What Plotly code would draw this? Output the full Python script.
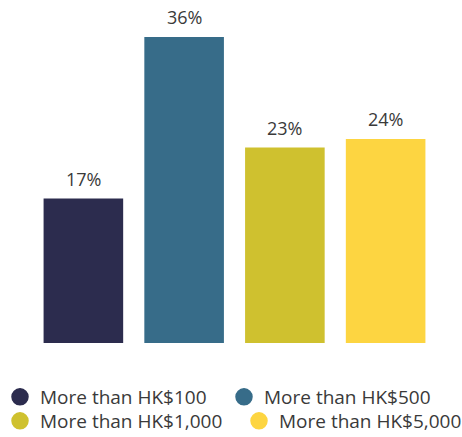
import plotly.graph_objects as go

categories = ["More than HK$100", "More than HK$500", "More than HK$1,000", "More than HK$5,000"]
values = [17, 36, 23, 24]
labels = ["17%", "36%", "23%", "24%"]
colors = ["#2c2c4e", "#376c89", "#cfc12f", "#fdd541"]

legend_names = ["legend", "legend2", "legend3", "legend4"]
legend_x = [-3, 224, -3, 239]
legend_y = [397, 397, 421, 421]

W, H = 462, 437

fig = go.Figure()
fig.add_trace(go.Bar(
    x=categories, y=values, marker=dict(color=colors, line=dict(width=0)),
    showlegend=False, hoverinfo="skip",
))
for c, v, t in zip(categories, values, labels):
    fig.add_annotation(x=c, y=v, text=t, showarrow=False, yanchor="bottom", yshift=6,
                       font=dict(family="Open Sans", size=18, color="#3a3a3a"))
for i, (c, col) in enumerate(zip(categories, colors)):
    fig.add_trace(go.Scatter(
        x=[None], y=[None], mode="markers", name=c,
        marker=dict(symbol="circle", size=16, color=col, line=dict(color=col, width=1.5)),
        legend=legend_names[i],
    ))

lay = dict(
    width=W, height=H,
    margin=dict(l=33, r=26, t=3, b=94, autoexpand=False),
    paper_bgcolor="white", plot_bgcolor="white",
    bargap=0.21,
    font=dict(family="Open Sans", size=19, color="#3a3a3a"),
    xaxis=dict(visible=False, range=[-0.5, 3.5]),
    yaxis=dict(visible=False, range=[0, 40]),
)
for i, ln in enumerate(legend_names):
    lay[ln] = dict(orientation="h", xref="container", yref="container",
                   x=legend_x[i] / W, xanchor="left", y=1 - legend_y[i] / H, yanchor="middle",
                   font=dict(family="Open Sans", size=19, color="#3a3a3a"),
                   itemsizing="trace", bgcolor="rgba(0,0,0,0)")
fig.update_layout(**lay)
fig.write_html("out.html", config={"displayModeBar": False},
               post_script="document.body.style.margin='0';")
